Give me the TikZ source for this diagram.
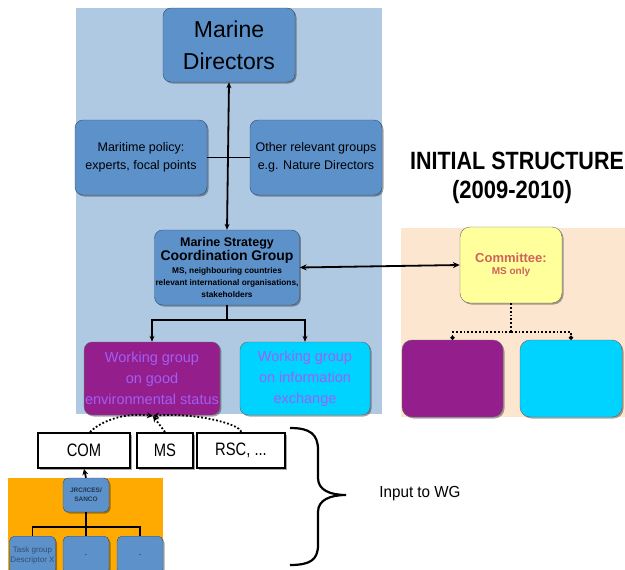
\documentclass[tikz,border=0pt]{standalone}
\usepackage{fontspec}
\usepackage{graphicx}
\setmainfont{Liberation Sans}
\usetikzlibrary{shadows,arrows.meta}
\definecolor{bgblue}{HTML}{B0C9E2}
\definecolor{boxblue}{HTML}{5D91CA}
\definecolor{boxedge}{HTML}{2F4F73}
\definecolor{wgpurple}{HTML}{951E8D}
\definecolor{wgcyan}{HTML}{00D3FF}
\definecolor{wgtext}{HTML}{A05EF2}
\definecolor{peach}{HTML}{FDE6CF}
\definecolor{comyellow}{HTML}{FFFF9C}
\definecolor{comtext}{HTML}{D0625C}
\definecolor{orangebg}{HTML}{FFAA00}
\tikzset{
  fs/.style 2 args={font=\fontsize{#1}{#2}\selectfont},
  shad/.style={drop shadow={shadow xshift=1.5pt,shadow yshift=-1.5pt,fill=black,opacity=0.35}},
  bluebox/.style={draw=boxedge,fill=boxblue,rounded corners=8pt,align=center,shad,inner sep=1pt},
  wgbox/.style={draw=black!60,rounded corners=8pt,align=center,shad,inner sep=1pt,text=wgtext},
  inbox/.style={draw=black,line width=2pt,fill=white,shad,inner sep=0pt},
  conn/.style={line width=1.8pt,black},
  dotc/.style={line width=1.8pt,dotted,black},
}
\begin{document}
\begin{tikzpicture}[x=1pt,y=-1pt]
\useasboundingbox (0,0) rectangle (625,570);
\begin{scope}
\clip (0,0) rectangle (625,570);
% backgrounds
\fill[bgblue] (76,8) rectangle (382,414);
\fill[peach] (401,228) rectangle (625,417);
\fill[orangebg] (8,478) rectangle (163,570);

% upper left group
\node[bluebox,minimum width=132pt,minimum height=74pt,fs={23}{32}] (md) at (229,45) {Marine\\Directors};
\node[bluebox,minimum width=132pt,minimum height=75pt,fs={12.5}{18}] (mp) at (141,157.5) {Maritime policy:\\experts, focal points};
\node[bluebox,minimum width=132pt,minimum height=75pt,fs={12.5}{18}] (org) at (316,157.5) {Other relevant groups\\e.g. Nature Directors};
\node[bluebox,minimum width=142pt,minimum height=75pt] (mscg) at (227,267.5) {%
  {\fontsize{12.5}{14}\selectfont\bfseries Marine Strategy}\\[0.5pt]
  {\fontsize{14}{16}\selectfont\bfseries Coordination Group}\\[1pt]
  {\fontsize{8.3}{10.5}\selectfont\bfseries MS, neighbouring countries}\\[0pt]
  {\fontsize{8.3}{10.5}\selectfont\bfseries relevant international organisations,}\\[0pt]
  {\fontsize{8.3}{10.5}\selectfont\bfseries stakeholders}};
\node[wgbox,fill=wgpurple,minimum width=130pt,minimum height=73pt,fs={14.5}{21}] (wg1) at (152,378.5) {Working group\\on good\\environmental status};
\node[wgbox,fill=wgcyan,minimum width=130pt,minimum height=73pt,fs={14.5}{21}] (wg2) at (305,378.5) {Working group\\on information\\exchange};

\draw[conn,{Stealth[length=6pt,width=5pt]}-{Stealth[length=6pt,width=5pt]}] (md.south) -- (mscg.north);
\draw[conn] (mp.east) -- (org.west);
\draw[conn] (mscg.south) -- ++(0,15) coordinate (split);
\draw[conn,-{Stealth[length=6pt,width=5pt]}] (split) -| (wg1.north);
\draw[conn,-{Stealth[length=6pt,width=5pt]}] (split) -| (wg2.north);

% right group
\node[font=\bfseries\fontsize{25}{28}\selectfont] (t1) at (517,161) {\scalebox{0.86}[1]{INITIAL STRUCTURE}};
\node[font=\bfseries\fontsize{25}{28}\selectfont] (t2) at (512,192) {\scalebox{0.88}[1]{(2009-2010)}};
\node[draw=black!60,fill=comyellow,rounded corners=10pt,shad,minimum width=102pt,minimum height=76pt,align=center,text=comtext] (com) at (511,265)
  {{\bfseries\fontsize{13}{16}\selectfont Committee:}\\{\bfseries\fontsize{10}{13}\selectfont MS only}};
\node[draw=black!60,fill=wgpurple,rounded corners=10pt,shad,minimum width=101pt,minimum height=77pt] (p2) at (452.5,378.5) {};
\node[draw=black!60,fill=wgcyan,rounded corners=10pt,shad,minimum width=102pt,minimum height=77pt] (c2) at (571,378.5) {};
\draw[conn,{Stealth[length=7pt,width=6pt]}-{Stealth[length=7pt,width=6pt]}] (mscg.east) -- (com.west);
\draw[dotc] (com.south) -- ++(0,29) coordinate (csplit);
\draw[dotc,-{Circle[length=4pt]}] (csplit) -| (p2.north);
\draw[dotc,-{Circle[length=4pt]}] (csplit) -| (c2.north);

% bottom
\node[inbox,minimum width=92pt,minimum height=35pt,fs={18}{20}] (bcom) at (84,450.5) {\scalebox{0.82}[1]{COM}};
\node[inbox,minimum width=56pt,minimum height=35pt,fs={18}{20}] (bms) at (165,450.5) {\scalebox{0.82}[1]{MS}};
\node[inbox,minimum width=88pt,minimum height=35pt,fs={18}{20}] (brsc) at (241,450.5) {\scalebox{0.82}[1]{RSC, ...}};
\coordinate (wgin) at (153,416);
\draw[dotc,-{Stealth[length=6pt,width=6pt]}] ([xshift=6pt]bcom.north) .. controls +(10,-10) and +(-30,-4) .. (wgin);
\draw[dotc,-{Stealth[length=6pt,width=6pt]}] (bms.north) -- (wgin);
\draw[dotc,-{Stealth[length=6pt,width=6pt]}] (brsc.north) .. controls +(0,-8) and +(40,-4) .. (wgin);

\node[bluebox,minimum width=46pt,minimum height=34pt,rounded corners=5pt,font=\bfseries\fontsize{6.5}{9}\selectfont,text=boxedge!70!black] (jrc) at (86,495) {JRC/ICES/\\SANCO};
\draw[conn,-{Stealth[length=6pt,width=6pt]}] (jrc.north) -- (bcom.south);
\node[bluebox,minimum width=45pt,minimum height=38pt,rounded corners=5pt,fs={8}{10},text=boxedge,anchor=north] (tg1) at (32.5,536) {Task group\\Descriptor X};
\node[bluebox,minimum width=46pt,minimum height=38pt,rounded corners=5pt,fs={8}{10},anchor=north] (tg2) at (86,536) {.};
\node[bluebox,minimum width=46pt,minimum height=38pt,rounded corners=5pt,fs={8}{10},anchor=north] (tg3) at (140,536) {.};
\draw[conn] (jrc.south) -- ++(0,15) coordinate (jsplit);
\draw[conn] (jsplit) -| (tg1.north);
\draw[conn] (jsplit) -| (tg3.north);
\draw[conn] (jsplit) -- (tg2.north);

% brace
\draw[line width=2.2pt] (290,428) .. controls (310,428) and (318,434) .. (318,450) -- (318,478)
  .. controls (318,490) and (330,495) .. (346,495) .. controls (330,495) and (318,500) .. (318,512)
  -- (318,545) .. controls (318,560) and (310,565) .. (290,565);
\node[fs={16}{18}] (inwg) at (420,494) {\scalebox{0.95}[1]{Input to WG}};
\end{scope}
\end{tikzpicture}
\end{document}
